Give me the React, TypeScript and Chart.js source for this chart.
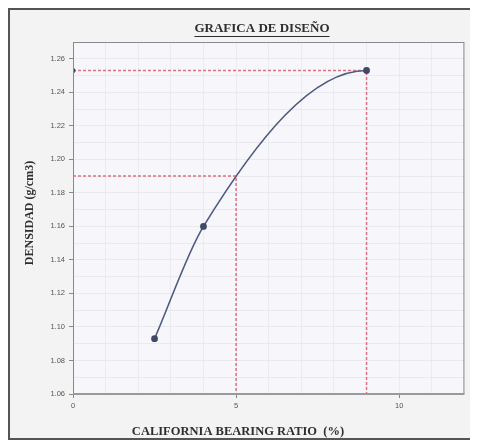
import { useEffect, useRef } from "react";
import { Chart, registerables } from "chart.js";
Chart.register(...registerables);

// Data (three test points, smoothed curve)
const cbr = [2.5, 4, 9];
const density = [1.093, 1.16, 1.253];
// Design read-off lines
const designCbr = [5, 9];
const designDensity = [1.19, 1.253];

// Axes
const xMin = 0;
const xMax = 12;
const yMin = 1.06;
const yMax = 1.27;
const xTickLabels = [0, 5, 10];
const yTickLabels = ["1.06", "1.08", "1.10", "1.12", "1.14", "1.16", "1.18", "1.20", "1.22", "1.24", "1.26"];

const titleText = "GRAFICA DE DISEÑO";
const xTitle = "CALIFORNIA BEARING RATIO  (%)";
const yTitle = "DENSIDAD (g/cm3)";

const isYLabel = (v: number) => yTickLabels.some((t) => Math.abs(parseFloat(t) - v) < 1e-6);
const isXLabel = (v: number) => xTickLabels.some((t) => Math.abs(t - v) < 1e-6);

// Excel-like smoothing: the curve arrives flat at its last point
const flatEnd = {
  id: "flatEnd",
  beforeDatasetDraw(chart: any, args: any) {
    const meta = args.meta;
    const ds = chart.data.datasets[args.index];
    if (!ds || !ds.flatEnd || !meta.dataset) return;
    const line = meta.dataset;
    if (typeof line.updateControlPoints === "function") {
      line.updateControlPoints(chart.chartArea, meta.iScale.axis);
    }
    const pts = meta.data;
    if (pts.length > 1) {
      const last = pts[pts.length - 1];
      last.cp1y = last.y;
      line._path = undefined;
    }
  },
};

const decor = {
  id: "decor",
  beforeDraw(chart: any) {
    const { ctx, chartArea } = chart;
    const { left, top, right, bottom } = chartArea;
    ctx.save();
    ctx.fillStyle = "#f7f7fb";
    ctx.fillRect(left, top, right - left, bottom - top);
    ctx.restore();
  },
  afterDraw(chart: any) {
    const { ctx, chartArea } = chart;
    const { left, top, right, bottom } = chartArea;
    ctx.save();
    ctx.strokeStyle = "#8a8a8a";
    ctx.lineWidth = 1;
    ctx.strokeRect(left + 0.5, top + 0.5, right - left - 1, bottom - top - 1);
    ctx.strokeStyle = "#9a9a9a";
    ctx.lineWidth = 2;
    ctx.beginPath();
    ctx.moveTo(left, bottom);
    ctx.lineTo(right, bottom);
    ctx.stroke();

    ctx.fillStyle = "#2e2e2e";
    ctx.font = "bold 13px 'Liberation Serif'";
    ctx.textAlign = "center";
    ctx.textBaseline = "middle";
    const tx = 252;
    const ty = 19;
    ctx.fillText(titleText, tx, ty);
    const tw = ctx.measureText(titleText).width;
    ctx.strokeStyle = "#2e2e2e";
    ctx.lineWidth = 1;
    ctx.beginPath();
    ctx.moveTo(tx - tw / 2, ty + 7.5);
    ctx.lineTo(tx + tw / 2, ty + 7.5);
    ctx.stroke();

    ctx.font = "bold 12.5px 'Liberation Serif'";
    ctx.fillText(xTitle, 228, 422);

    ctx.translate(20, (top + bottom) / 2 - 5);
    ctx.rotate(-Math.PI / 2);
    ctx.font = "bold 12px 'Liberation Serif'";
    ctx.fillText(yTitle, 0, 0);
    ctx.restore();
  },
};

export default function App() {
  const ref = useRef<HTMLCanvasElement>(null);
  useEffect(() => {
    if (!ref.current) return;
    const pts = cbr.map((x, i) => ({ x, y: density[i] }));
    const guides = designCbr.map((x, i) => [
      { x: xMin, y: designDensity[i] },
      { x, y: designDensity[i] },
      { x, y: yMin },
    ]);
    const chart = new Chart(ref.current, {
      type: "scatter",
      data: {
        datasets: [
          ...guides.map((g, i) => ({
            data: g,
            showLine: true,
            borderColor: "#e0707e",
            borderWidth: 1.5,
            borderDash: [3, 2],
            pointRadius: (c: any) => (i === guides.length - 1 && c.dataIndex === 0 ? 2.5 : 0),
            pointBackgroundColor: "#3f4a66",
            pointBorderWidth: 0,
            order: 2,
          })),
          {
            data: pts,
            showLine: true,
            flatEnd: true,
            borderColor: "#4d5b80",
            borderWidth: 1.6,
            cubicInterpolationMode: "monotone",
            pointRadius: 2.6,
            pointStyle: "circle",
            pointBackgroundColor: "#3f4a66",
            pointBorderColor: "#3f4a66",
            order: 1,
          } as any,
        ],
      },
      options: {
        animation: false,
        responsive: false,
        devicePixelRatio: 1,
        layout: { padding: { left: 0, top: 32, right: 3, bottom: 0 } },
        plugins: { legend: { display: false }, tooltip: { enabled: false }, title: { display: false } },
        scales: {
          x: {
            type: "linear",
            min: xMin,
            max: xMax,
            afterBuildTicks: (s: any) => {
              const t = [];
              for (let v = xMin; v <= xMax; v += 1) t.push({ value: v });
              s.ticks = t;
            },
            afterFit: (s: any) => {
              s.height = 44;
            },
            border: { display: false },
            grid: {
              color: "#ebebf2",
              lineWidth: 1,
              tickLength: 4,
              tickColor: (c: any) => (isXLabel(c.tick.value) ? "#888" : "rgba(0,0,0,0)"),
            },
            ticks: {
              autoSkip: false,
              maxRotation: 0,
              padding: 3,
              color: "#555",
              font: { family: "'Liberation Sans'", size: 7.5 },
              callback: (v: any) => (isXLabel(Number(v)) ? String(v) : ""),
            },
          },
          y: {
            type: "linear",
            min: yMin,
            max: yMax,
            afterBuildTicks: (s: any) => {
              const t = [];
              for (let k = 0; k <= Math.round((yMax - yMin) * 100); k++) t.push({ value: +(yMin + k * 0.01).toFixed(2) });
              s.ticks = t;
            },
            afterFit: (s: any) => {
              s.width = 63;
            },
            border: { display: false },
            grid: {
              color: "#e9e9f0",
              lineWidth: 1,
              tickLength: 4,
              tickColor: (c: any) => (isYLabel(c.tick.value) ? "#888" : "rgba(0,0,0,0)"),
            },
            ticks: {
              autoSkip: false,
              padding: 4,
              color: "#555",
              font: { family: "'Liberation Sans'", size: 7.5 },
              callback: (v: any) => {
                const n = Number(v);
                return isYLabel(n) ? n.toFixed(2) : "";
              },
            },
          },
        },
      },
      plugins: [decor, flatEnd],
    });
    return () => chart.destroy();
  }, []);
  return (
    <div
      style={{
        width: 464,
        height: 432,
        boxSizing: "border-box",
        border: "2px solid #555",
        background: "#f3f3f3",
      }}
    >
      <canvas ref={ref} width={460} height={428} style={{ display: "block" }} />
    </div>
  );
}
